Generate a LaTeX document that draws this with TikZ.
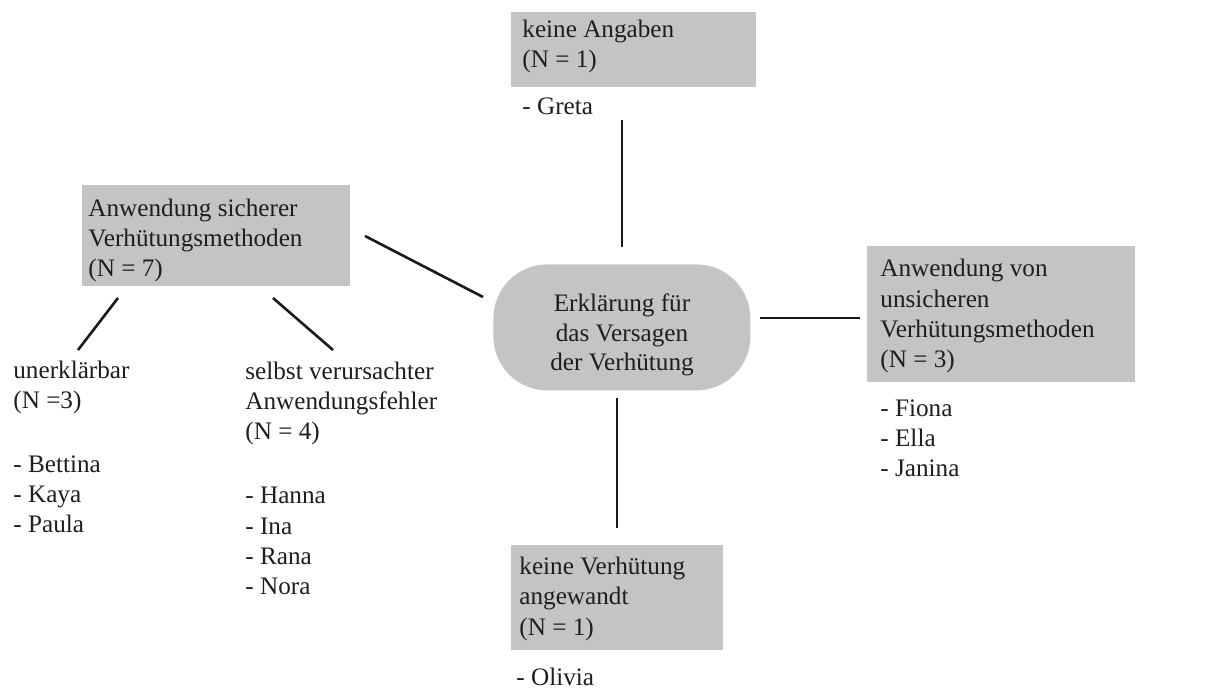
\documentclass[tikz,border=0pt]{standalone}
\usepackage{fontspec}
\setmainfont{Liberation Serif}
\definecolor{boxgray}{HTML}{C4C4C4}
\definecolor{txt}{HTML}{1E1E1E}
\begin{document}
\begin{tikzpicture}[x=0.5pt,y=-0.5pt,
  font=\fontsize{12.6pt}{15.2pt}\selectfont,
  catbox/.style={fill=boxgray,draw=none,inner sep=0pt,anchor=north west},
  lbl/.style={inner sep=0pt,anchor=base west,align=left,text=txt},
  conn/.style={line width=1.3pt,draw=black!90}]
\useasboundingbox (0,0) rectangle (1211,689);
% boxes
\node[catbox,minimum width=122.5pt,minimum height=37.5pt] (btop) at (511,12) {};
\node[catbox,minimum width=134pt,minimum height=50.5pt] (bleft) at (82,185) {};
\node[catbox,minimum width=134pt,minimum height=68pt] (bright) at (867,246) {};
\node[catbox,minimum width=106pt,minimum height=52.5pt] (bbot) at (511,545) {};
\node[catbox,minimum width=128.5pt,minimum height=63pt,rounded corners=27pt] (center) at (493,264) {};
% texts (anchor = baseline of last line)
\node[lbl] (ttop) at (522,68) {keine Angaben\\(N = 1)};
\node[lbl] (greta) at (522,115) {- Greta};
\node[lbl] (tleft) at (88,277) {Anwendung sicherer\\Verhütungsmethoden\\(N = 7)};
\node[lbl] (tright) at (880,368) {Anwendung von\\unsicheren\\Verhütungsmethoden\\(N = 3)};
\node[lbl] (lright) at (880,477) {- Fiona\\- Ella\\- Janina};
\node[lbl] (tbot) at (519,635) {keine Verhütung\\angewandt\\(N = 1)};
\node[lbl] (olivia) at (516,685) {- Olivia};
\node[inner sep=0pt,anchor=base,align=center,text=txt,font=\fontsize{12.6pt}{14.8pt}\selectfont] (tcenter) at (622,371) {Erklärung für\\das Versagen\\der Verhütung};
\node[lbl] (tunerk) at (13,409) {unerklärbar\\(N =3)};
\node[lbl] (lunerk) at (13,533) {- Bettina\\- Kaya\\- Paula};
\node[lbl] (tselbst) at (245,440) {selbst verursachter\\Anwendungsfehler\\(N = 4)};
\node[lbl] (lselbst) at (245,595) {- Hanna\\- Ina\\- Rana\\- Nora};
% connector ends
\coordinate (ctopA) at (622,120);
\coordinate (ctopB) at (622,247);
\coordinate (cleftA) at (365,236);
\coordinate (cleftB) at (483,297);
\coordinate (crightA) at (760,318);
\coordinate (crightB) at (860,318);
\coordinate (cbotA) at (617,398);
\coordinate (cbotB) at (617,528);
\coordinate (cs1A) at (118,298);
\coordinate (cs1B) at (78,350);
\coordinate (cs2A) at (273,298);
\coordinate (cs2B) at (333,350);
% connectors
\draw[conn] (ctopA) -- (ctopB);
\draw[conn] (cleftA) -- (cleftB);
\draw[conn] (crightA) -- (crightB);
\draw[conn] (cbotA) -- (cbotB);
\draw[conn] (cs1A) -- (cs1B);
\draw[conn] (cs2A) -- (cs2B);
\end{tikzpicture}
\end{document}
